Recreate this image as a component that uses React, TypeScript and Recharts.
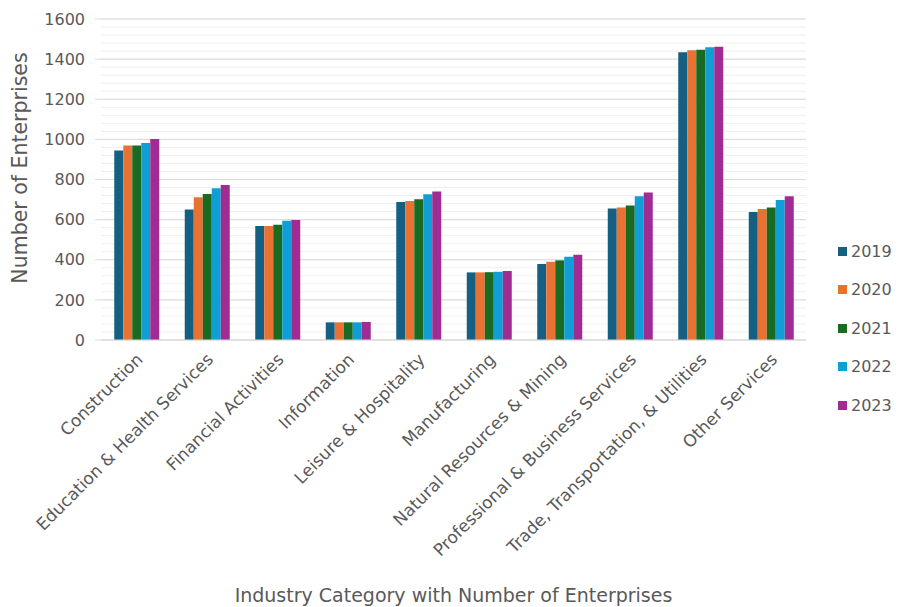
import React from "react";
import { BarChart, Bar, XAxis, YAxis, CartesianGrid, Legend, Label } from "recharts";

const categories = [
  "Construction",
  "Education & Health Services",
  "Financial Activities",
  "Information",
  "Leisure & Hospitality",
  "Manufacturing",
  "Natural Resources & Mining",
  "Professional & Business Services",
  "Trade, Transportation, & Utilities",
  "Other Services",
];
const years = ["2019", "2020", "2021", "2022", "2023"];
const v2019 = [944, 650, 568, 88, 688, 337, 379, 656, 1434, 638];
const v2020 = [969, 711, 568, 88, 693, 337, 390, 660, 1444, 653];
const v2021 = [970, 728, 575, 88, 701, 338, 397, 670, 1447, 661];
const v2022 = [982, 756, 595, 88, 727, 340, 415, 717, 1459, 698];
const v2023 = [1002, 773, 598, 90, 740, 344, 425, 735, 1462, 717];
const colors = ["#156082", "#E97132", "#196B24", "#0F9ED5", "#A02B93"];
const yTicks = [0, 200, 400, 600, 800, 1000, 1200, 1400, 1600];
const minorTicks = Array.from({ length: 41 }, (_, i) => i * 40);

const series = [v2019, v2020, v2021, v2022, v2023];
const data = categories.map((c, i) => {
  const row: Record<string, any> = { name: c };
  years.forEach((y, k) => (row[y] = series[k][i]));
  return row;
});

const FONT = "'DejaVu Sans', sans-serif";
const TEXT = "#595959";

const XTick = (props: any) => {
  const { x, y, payload } = props;
  return (
    <g transform={`translate(${x + 4},${y + 9})`}>
      <text
        textAnchor="end"
        transform="rotate(-45)"
        fontSize={17}
        fontFamily={FONT}
        fill={TEXT}
        dy={5}
      >
        {payload.value}
      </text>
    </g>
  );
};

const YTitle = (props: any) => {
  return (
    <text
      x={20}
      y={168}
      transform="rotate(-90 20 168)"
      textAnchor="middle"
      dominantBaseline="central"
      fontSize={20.5}
      fontFamily={FONT}
      fill={TEXT}
    >
      Number of Enterprises
    </text>
  );
};

const LegendContent = (props: any) => {
  const { payload } = props;
  return (
    <div style={{ fontFamily: FONT }}>
      {payload.map((p: any) => (
        <div
          key={p.value}
          style={{ display: "flex", alignItems: "center", height: 38.5, fontSize: 16, color: TEXT }}
        >
          <span
            style={{ width: 9, height: 9, background: p.color, display: "inline-block", marginRight: 4 }}
          />
          <span>{p.value}</span>
        </div>
      ))}
    </div>
  );
};

export default function App() {
  return (
    <div style={{ position: "absolute", left: 0, top: 0, background: "#fff" }}>
      <BarChart
        width={900}
        height={607}
        data={data}
        margin={{ top: 19, right: 94, bottom: 0, left: 0 }}
        barCategoryGap="18.8%"
        barGap={0}
      >
        <CartesianGrid vertical={false} stroke="#efefef" horizontalValues={minorTicks} />
        <CartesianGrid vertical={false} stroke="#d9d9d9" horizontalValues={yTicks} />
        <XAxis
          dataKey="name"
          interval={0}
          tick={<XTick />}
          tickLine={false}
          axisLine={{ stroke: "#d9d9d9" }}
          height={267}
        >
          <Label
            value="Industry Category with Number of Enterprises"
            position="insideBottom"
            offset={5}
            style={{ fontSize: 19, fontFamily: FONT, fill: TEXT }}
          />
        </XAxis>
        <YAxis
          width={101}
          domain={[0, 1600]}
          ticks={yTicks}
          interval={0}
          axisLine={false}
          tickLine={{ stroke: "#d9d9d9" }}
          tickSize={6}
          tickMargin={10}
          tick={{ fontSize: 16, fontFamily: FONT, fill: TEXT }}
        >
          <Label content={<YTitle />} />
        </YAxis>
        <Legend
          layout="vertical"
          align="center"
          verticalAlign="middle"
          content={<LegendContent />}
          wrapperStyle={{ left: 838, top: 232, width: 70 }}
        />
        {years.map((y, k) => (
          <Bar key={y} dataKey={y} fill={colors[k]} isAnimationActive={false} />
        ))}
      </BarChart>
    </div>
  );
}
